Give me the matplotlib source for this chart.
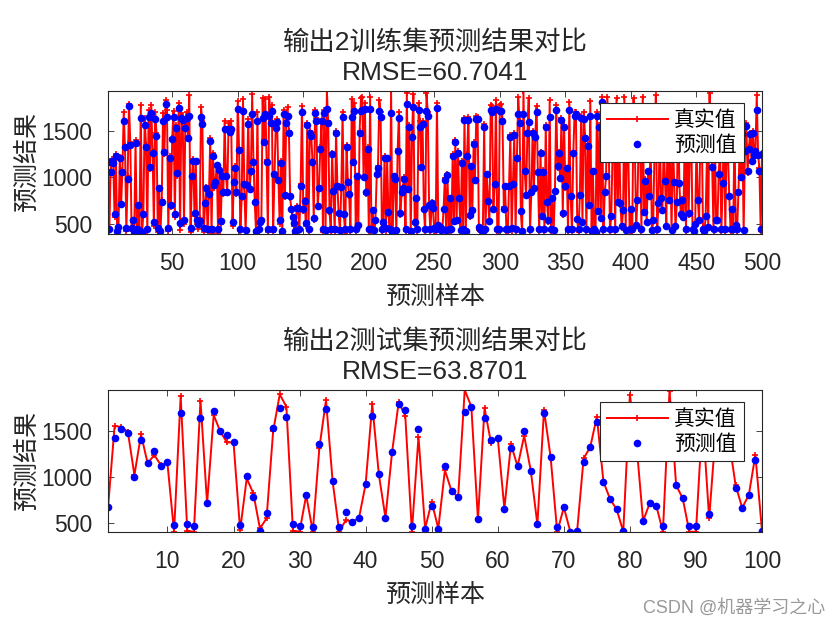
import matplotlib
matplotlib.use("Agg")
from matplotlib import pyplot as plt
import numpy as np

plt.rcParams["font.family"] = ["Liberation Sans", "Noto Sans CJK SC"]

# training set (500 samples): true / predicted
train_true = [
    1180, 420, 1080, 1200, 1160, 580, 1250, 410, 450, 1220,
    700, 1080, 1700, 1300, 420, 1010, 1790, 1380, 420, 520,
    400, 1400, 420, 690, 410, 1780, 393, 620, 1640, 1350,
    420, 1720, 1090, 1770, 1280, 480, 1700, 1480, 410, 870,
    400, 760, 1690, 1250, 1830, 1720, 420, 1230, 680, 1420,
    1710, 580, 1560, 1010, 1800, 440, 1690, 1650, 500, 1580,
    1700, 1440, 1880, 410, 1000, 1200, 590, 1160, 500, 450,
    560, 1750, 1600, 410, 700, 900, 410, 800, 1420, 400,
    1260, 890, 960, 1110, 400, 1100, 500, 1030, 820, 1600,
    1010, 850, 1580, 1530, 1600, 480, 960, 1120, 820, 1820,
    1310, 430, 780, 1840, 900, 420, 940, 1620, 860, 1050,
    1890, 1180, 720, 400, 1700, 420, 500, 520, 1850, 1400,
    1840, 1190, 410, 1860, 1600, 1780, 410, 1010, 1550, 1620,
    990, 500, 1170, 400, 1720, 790, 1600, 1750, 1500, 780,
    650, 560, 480, 400, 690, 660, 420, 930, 1760, 640,
    760, 480, 1580, 420, 1500, 1470, 1180, 540, 1720, 1640,
    680, 900, 1320, 1620, 410, 1720, 420, 1925, 1600, 630,
    430, 1260, 840, 410, 1500, 930, 600, 420, 880, 1700,
    590, 400, 1350, 960, 800, 420, 1840, 1180, 1800, 430,
    1000, 470, 1500, 1850, 1860, 990, 1800, 820, 1330, 430,
    1860, 420, 640, 410, 520, 1010, 1120, 1830, 1700, 420,
    500, 1230, 420, 1190, 610, 420, 1925, 400, 1000, 960,
    410, 1300, 1700, 600, 820, 900, 1000, 420, 1900, 860,
    1560, 400, 1450, 1890, 500, 760, 420, 1800, 1600, 1100,
    1600, 650, 420, 1900, 1700, 690, 420, 740, 650, 420,
    430, 1800, 480, 460, 420, 420, 650, 990, 410, 1040,
    430, 760, 420, 1250, 520, 1400, 530, 1280, 770, 410,
    1170, 420, 1640, 400, 1250, 1650, 580, 1100, 630, 1380,
    990, 1660, 1650, 440, 420, 410, 400, 1570, 420, 1010,
    760, 520, 1780, 1760, 650, 910, 1830, 420, 430, 1780,
    1790, 1620, 680, 890, 420, 410, 920, 1450, 420, 950,
    1470, 420, 1220, 1860, 1600, 620, 400, 1925, 1050, 800,
    1480, 1850, 420, 830, 1500, 900, 1450, 1760, 1040, 420,
    1270, 570, 1080, 420, 1560, 720, 520, 1830, 430, 760,
    410, 840, 1780, 1100, 1270, 980, 1640, 600, 1560, 890,
    1080, 420, 1810, 790, 420, 1240, 1700, 1700, 540, 410,
    800, 1660, 510, 1700, 1440, 420, 1360, 690, 1820, 400,
    1050, 420, 400, 1700, 630, 1560, 550, 1860, 430, 830,
    1000, 1864, 1400, 430, 580, 1300, 1650, 420, 1846, 720,
    1500, 700, 460, 640, 1864, 420, 1450, 1250, 430, 650,
    410, 1850, 1300, 480, 760, 1500, 1350, 420, 1864, 620,
    980, 510, 1050, 790, 1400, 410, 530, 1300, 1880, 420,
    710, 1500, 770, 640, 1350, 980, 470, 1600, 760, 1250,
    420, 1450, 930, 460, 720, 1700, 920, 600, 770, 560,
    1400, 430, 1650, 600, 1300, 1500, 420, 410, 490, 1350,
    770, 530, 1450, 1600, 420, 410, 580, 1250, 460, 1900,
    1350, 1100, 420, 1500, 530, 530, 1050, 1300, 420, 920,
    1600, 430, 1400, 1250, 810, 420, 650, 430, 1500, 480,
    430, 830, 1350, 1000, 1480, 420, 1300, 1580, 1050, 1320,
    1480, 1160, 1500, 1250, 1300, 1880, 1250, 1100, 430, 1260,
]
train_pred = [
    1168, 446, 1061, 1180, 1150, 604, 1232, 430, 465, 1210,
    714, 1053, 1604, 1329, 460, 978, 1768, 1346, 460, 543,
    421, 1364, 450, 704, 440, 1632, 410, 604, 1561, 1329,
    446, 1650, 1114, 1686, 1264, 525, 1625, 1443, 460, 889,
    421, 732, 1604, 1275, 1782, 1643, 460, 1204, 704, 1407,
    1643, 604, 1525, 1043, 1746, 507, 1632, 1614, 543, 1525,
    1632, 1425, 1661, 460, 1018, 1175, 614, 1175, 543, 500,
    536, 1643, 1568, 460, 721, 882, 450, 818, 1389, 446,
    1232, 918, 946, 1132, 446, 1079, 532, 1018, 839, 1518,
    1018, 839, 1518, 1490, 1518, 518, 946, 1096, 839, 1732,
    1293, 450, 800, 1711, 925, 440, 918, 1568, 875, 1068,
    1675, 1161, 732, 421, 1604, 450, 525, 543, 1632, 1375,
    1675, 1168, 446, 1661, 1579, 1711, 446, 1032, 1532, 1589,
    971, 543, 1150, 430, 1675, 811, 1579, 1661, 1471, 800,
    661, 579, 507, 430, 668, 675, 450, 911, 1696, 661,
    746, 507, 1561, 446, 1471, 1446, 1161, 561, 1686, 1604,
    696, 882, 1300, 1604, 446, 1686, 440, 1732, 1579, 650,
    450, 1246, 854, 446, 1480, 911, 614, 440, 900, 1643,
    604, 446, 1320, 946, 818, 450, 1643, 1161, 1711, 450,
    1018, 489, 1480, 1711, 1721, 1007, 1732, 839, 1304, 450,
    1732, 446, 650, 440, 543, 1032, 1104, 1711, 1650, 446,
    518, 1211, 460, 1204, 632, 446, 1686, 421, 1018, 982,
    439, 1280, 1632, 614, 839, 882, 982, 446, 1782, 875,
    1543, 421, 1430, 1757, 525, 775, 446, 1721, 1543, 1114,
    1568, 661, 446, 1711, 1657, 707, 446, 725, 671, 460,
    450, 1739, 489, 471, 440, 446, 661, 971, 439, 1025,
    446, 775, 446, 1232, 536, 1382, 546, 1257, 782, 439,
    1150, 446, 1614, 430, 1232, 1614, 596, 1118, 650, 1354,
    971, 1625, 1625, 468, 446, 439, 421, 1543, 446, 1032,
    746, 532, 1721, 1700, 661, 925, 1732, 446, 450, 1711,
    1711, 1604, 661, 907, 446, 446, 907, 1430, 460, 932,
    1454, 446, 1204, 1675, 1579, 639, 430, 1675, 1068, 811,
    1471, 1596, 446, 846, 1479, 882, 1436, 1696, 1061, 446,
    1257, 589, 1061, 446, 1543, 732, 543, 1650, 450, 775,
    439, 854, 1721, 1118, 1257, 996, 1614, 614, 1543, 907,
    1096, 446, 1721, 800, 446, 1257, 1661, 1675, 554, 446,
    811, 1632, 525, 1625, 1425, 446, 1339, 704, 1661, 421,
    1068, 446, 410, 1661, 639, 1543, 568, 1804, 450, 839,
    1018, 1700, 1380, 450, 589, 1290, 1600, 446, 1700, 732,
    1480, 721, 475, 650, 1700, 432, 1430, 1230, 450, 661,
    446, 1700, 1280, 489, 757, 1480, 1330, 446, 1700, 625,
    964, 525, 1068, 800, 1380, 439, 543, 1280, 1700, 446,
    721, 1480, 782, 650, 1330, 964, 482, 1560, 757, 1230,
    440, 1430, 946, 475, 732, 1650, 935, 611, 757, 575,
    1380, 450, 1600, 614, 1280, 1480, 446, 430, 500, 1330,
    757, 543, 1430, 1560, 446, 430, 589, 1230, 468, 1720,
    1330, 1114, 446, 1480, 543, 543, 1032, 1280, 446, 936,
    1560, 450, 1380, 1230, 800, 446, 661, 446, 1480, 489,
    446, 839, 1330, 1007, 1461, 432, 1280, 1554, 1068, 1304,
    1461, 1175, 1480, 1239, 1280, 1721, 1239, 1068, 446, 1250,
]

# test set (100 samples): true / predicted
test_true = [
    660, 1551, 1540, 1490, 1018, 1460, 1145, 1236, 1127, 1145,
    403, 1877, 413, 403, 1826, 710, 1670, 1490, 1373, 1373,
    421, 982, 820, 439, 547, 1496, 1895, 1761, 413, 405,
    800, 405, 1316, 1833, 953, 405, 529, 511, 555, 920,
    1786, 1025, 555, 1265, 1808, 1663, 405, 1435, 438, 728,
    438, 1072, 845, 776, 1942, 1761, 536, 1743, 1362, 1424,
    655, 1352, 1112, 1446, 1065, 482, 1725, 1214, 400, 667,
    400, 400, 1199, 1322, 1652, 946, 758, 645, 405, 1888,
    1350, 518, 713, 685, 403, 1931, 909, 764, 403, 403,
    1650, 547, 1500, 1700, 1400, 909, 663, 801, 1236, 410,
]
test_pred = [
    667, 1424, 1522, 1478, 1000, 1399, 1145, 1276, 1120, 1160,
    471, 1696, 482, 460, 1641, 710, 1714, 1496, 1457, 1373,
    475, 1007, 783, 413, 601, 1533, 1750, 1652, 489, 460,
    800, 449, 1359, 1732, 953, 453, 612, 511, 555, 920,
    1659, 1025, 555, 1265, 1786, 1725, 460, 1522, 438, 680,
    438, 1112, 845, 776, 1699, 1761, 536, 1641, 1399, 1424,
    655, 1312, 1112, 1500, 1065, 482, 1688, 1214, 449, 667,
    405, 410, 1155, 1322, 1591, 946, 758, 645, 410, 1760,
    1330, 518, 713, 685, 464, 1780, 909, 764, 464, 464,
    1620, 591, 1480, 1680, 1380, 880, 663, 801, 1181, 410,
]

train_x_ticks = [50, 100, 150, 200, 250, 300, 350, 400, 450, 500]
test_x_ticks = [10, 20, 30, 40, 50, 60, 70, 80, 90, 100]
y_ticks = [500, 1000, 1500]

dark = "0.15"


def draw_panel(ax, y_true, y_pred, xticks, title):
    x = np.arange(1, len(y_true) + 1)
    ax.plot(x, y_true, "-+", color="red", linewidth=1.4, markersize=4.5,
            markeredgewidth=1.2, label="真实值")
    ax.plot(x, y_pred, "o", color="blue", markersize=5.5, markeredgewidth=0,
            label="预测值")
    lo = min(min(y_true), min(y_pred))
    hi = max(max(y_true), max(y_pred))
    ax.set_xlim(1, len(y_true))
    ax.set_ylim(lo, hi)
    ax.set_xticks(xticks)
    ax.set_yticks(y_ticks)
    ax.tick_params(direction="in", top=True, right=True, length=4, width=0.6,
                   color=dark, labelcolor=dark, labelsize=16.5)
    ax.tick_params(axis="x", pad=13)
    ax.tick_params(axis="y", pad=11)
    for sp in ax.spines.values():
        sp.set_linewidth(0.8)
        sp.set_color(dark)
    ax.set_title(title, fontsize=19, color=dark, pad=8, linespacing=1.32)
    ax.set_xlabel("预测样本", fontsize=18, color=dark, labelpad=7)
    ax.set_ylabel("预测结果", fontsize=18, color=dark, labelpad=2)
    leg = ax.legend(loc="upper right", bbox_to_anchor=(0.972, 0.915),
                    borderaxespad=0, fontsize=15, handlelength=2.9,
                    handletextpad=0.3, borderpad=0.35, labelspacing=0.25,
                    fancybox=False, framealpha=1, edgecolor=dark)
    leg.get_frame().set_linewidth(0.8)


fig = plt.figure(figsize=(8.4, 6.3), dpi=100)
ax1 = fig.add_axes([108 / 840, 1 - 234 / 630, 654 / 840, 143 / 630])
ax2 = fig.add_axes([108 / 840, 1 - 532 / 630, 654 / 840, 142 / 630])

draw_panel(ax1, train_true, train_pred, train_x_ticks,
           "输出2训练集预测结果对比\nRMSE=60.7041")
draw_panel(ax2, test_true, test_pred, test_x_ticks,
           "输出2测试集预测结果对比\nRMSE=63.8701")

fig.text(0.983, 0.035, "CSDN @机器学习之心", ha="right", va="center",
         fontsize=13, color="0.6")

fig.savefig("out.png", dpi=100)
